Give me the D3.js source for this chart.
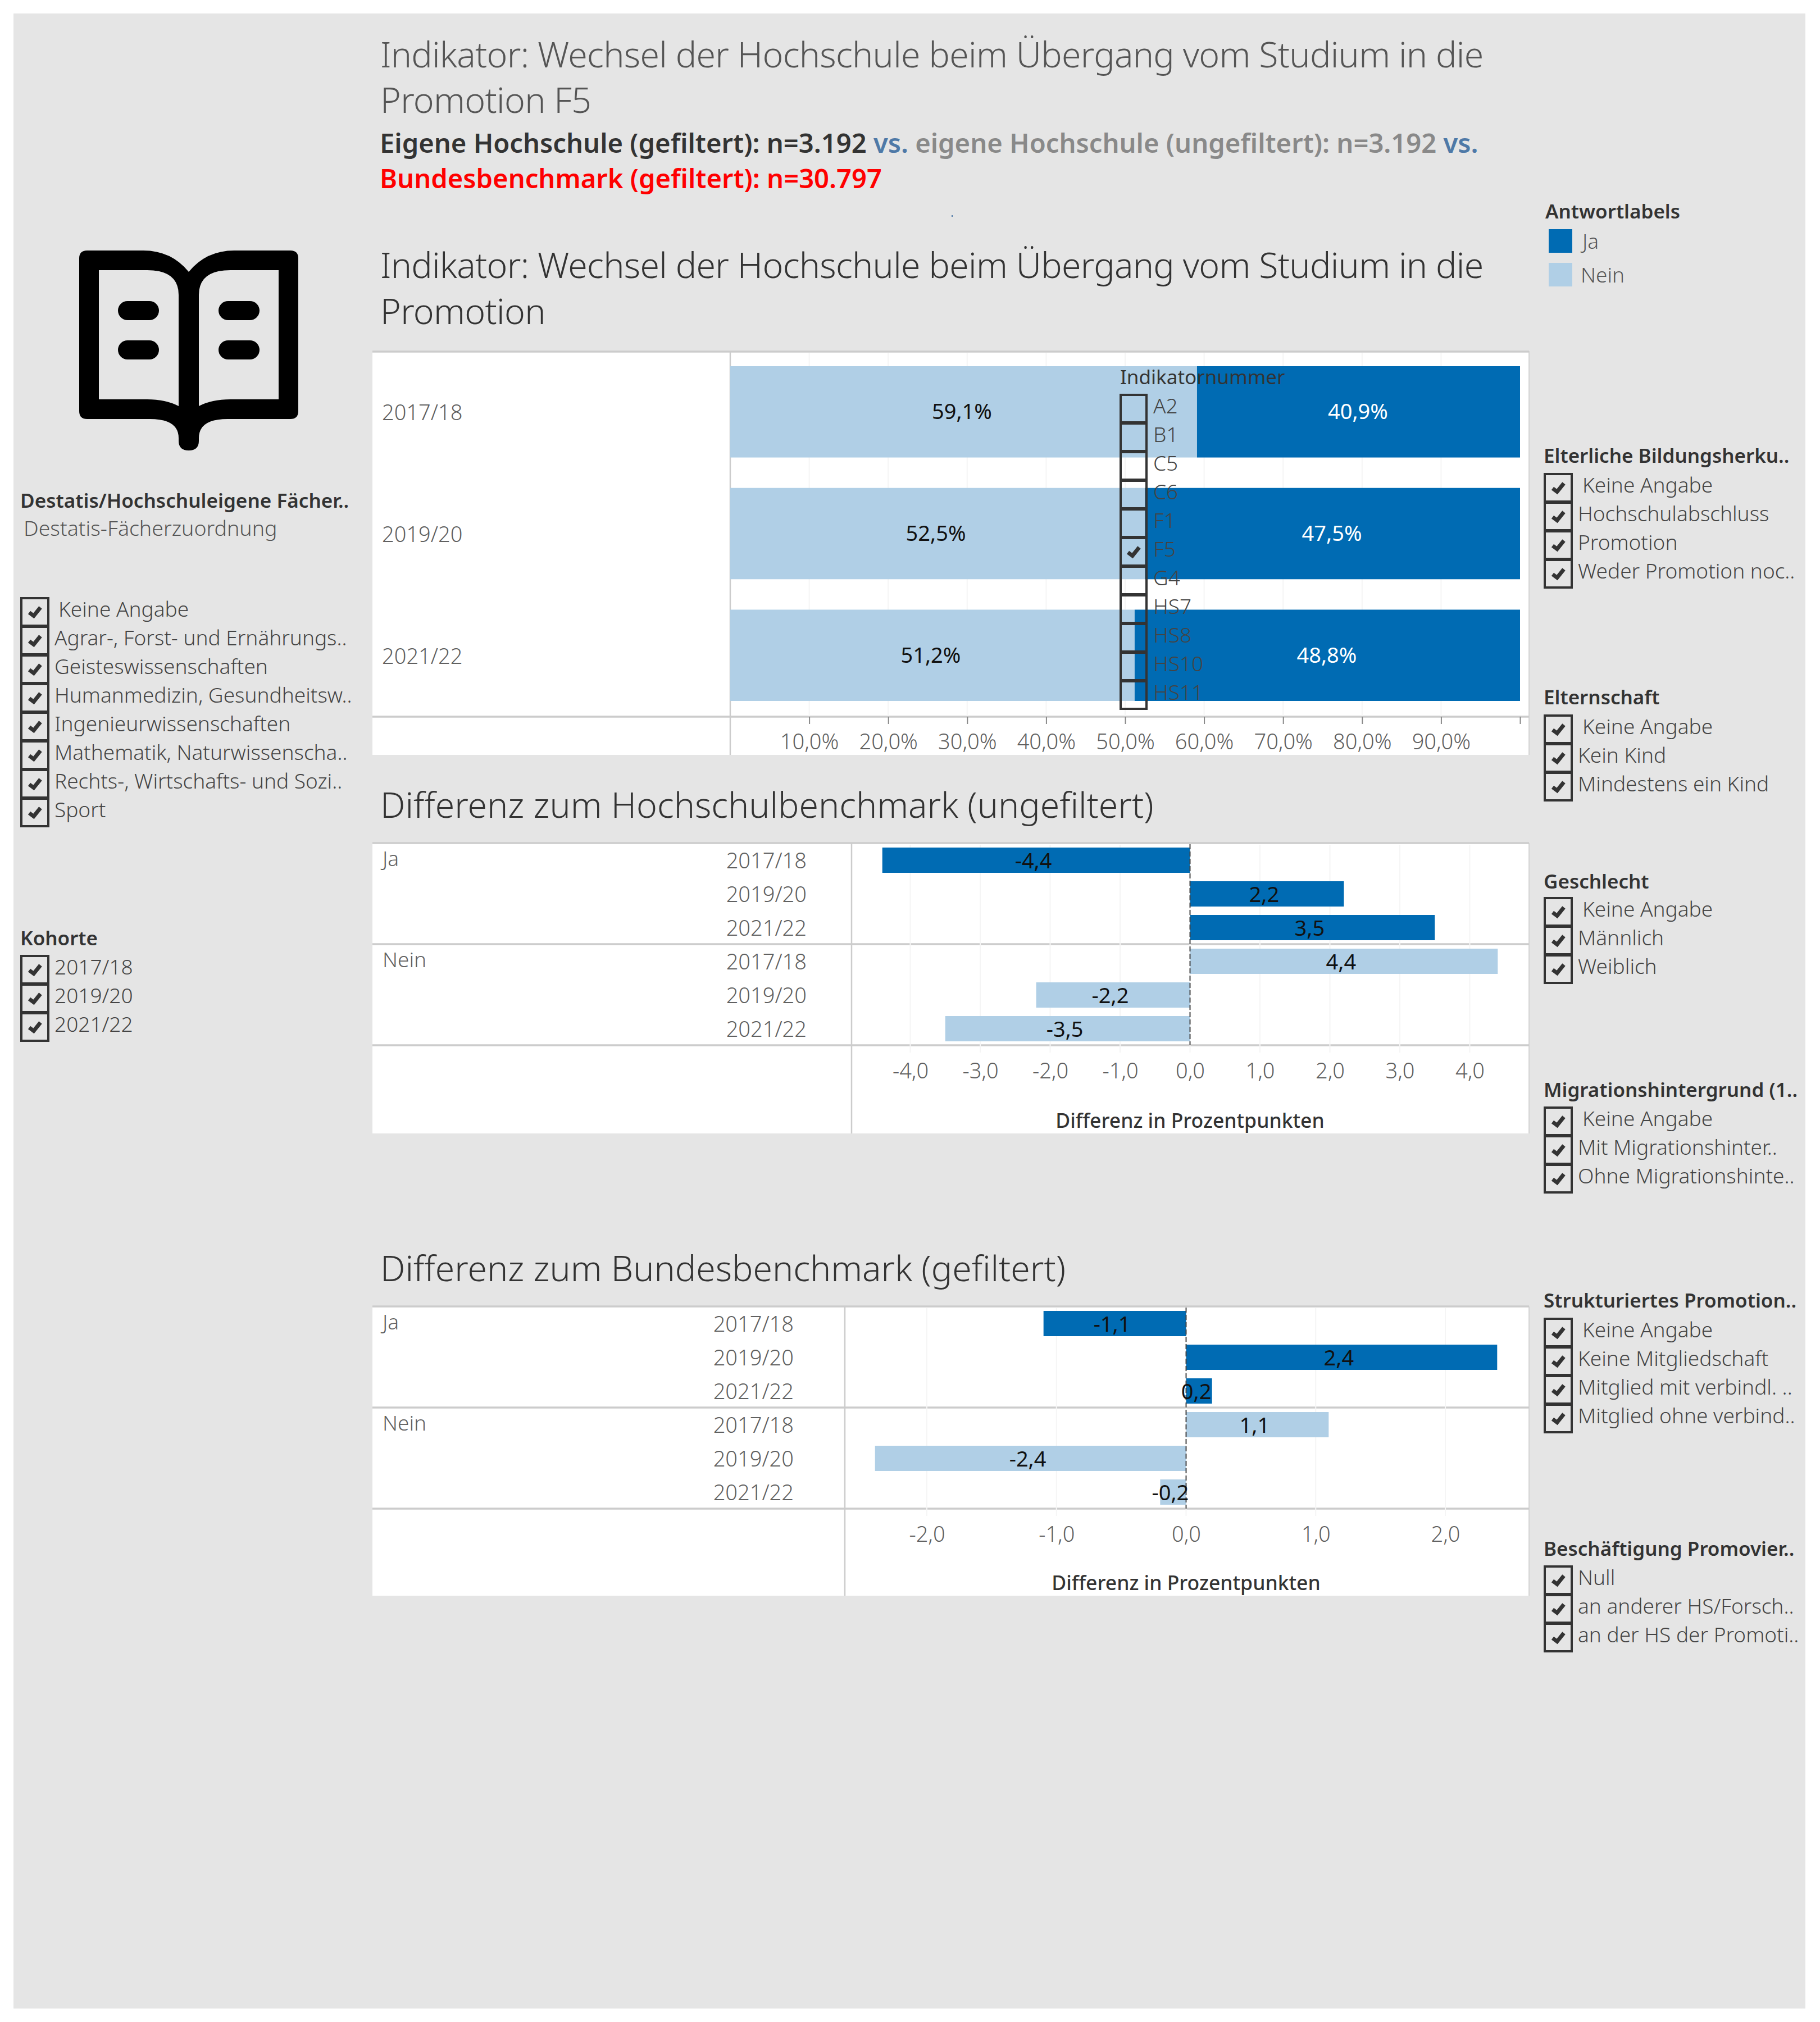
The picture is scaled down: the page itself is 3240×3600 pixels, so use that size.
<!DOCTYPE html>
<html>
<head>
<meta charset="utf-8">
<title>Wechsel der Hochschule</title>
<script src="https://cdn.jsdelivr.net/npm/d3@7"></script>
<style>
  html, body { margin: 0; padding: 0; background: #fff; }
  svg { display: block; }
  text { font-family: "Noto Sans", sans-serif; }
</style>
</head>
<body>
<div id="chart"></div>
<script>
// Data
const years = ["2017/18", "2019/20", "2021/22"];
const answers = ["Ja", "Nein"];
const jaShare = [40.9, 47.5, 48.8];
const neinShare = [59.1, 52.5, 51.2];
const hsDiffJa = [-4.4, 2.2, 3.5];
const hsDiffNein = [4.4, -2.2, -3.5];
const bundDiffJa = [-1.1, 2.4, 0.2];
const bundDiffNein = [1.1, -2.4, -0.2];

const shareTicks = [10, 20, 30, 40, 50, 60, 70, 80, 90, 100];
const hsTicks = [-4, -3, -2, -1, 0, 1, 2, 3, 4];
const bundTicks = [-2, -1, 0, 1, 2];

const indikatoren = ["A2", "B1", "C5", "C6", "F1", "F5", "G4", "HS7", "HS8", "HS10", "HS11"];
const faecher = ["Keine Angabe", "Agrar-, Forst- und Ernährungs..", "Geisteswissenschaften", "Humanmedizin, Gesundheitsw..", "Ingenieurwissenschaften", "Mathematik, Naturwissenscha..", "Rechts-, Wirtschafts- und Sozi..", "Sport"];
const bildung = ["Keine Angabe", "Hochschulabschluss", "Promotion", "Weder Promotion noc.."];
const elternschaft = ["Keine Angabe", "Kein Kind", "Mindestens ein Kind"];
const geschlecht = ["Keine Angabe", "Männlich", "Weiblich"];
const migration = ["Keine Angabe", "Mit Migrationshinter..", "Ohne Migrationshinte.."];
const strukturiert = ["Keine Angabe", "Keine Mitgliedschaft", "Mitglied mit verbindl. ..", "Mitglied ohne verbind.."];
const beschaeftigung = ["Null", "an anderer HS/Forsch..", "an der HS der Promoti.."];

const blue = "#006bb3";
const lightBlue = "#b0cfe6";
const lineGrey = "#cccccc";
const labelGrey = "#606060";
const boxDark = "#333333";
const fs = 37;    // filter and row labels
const numFs = 38; // numbers are set a bit wider in the reference
const headFs = 35;

const de = d3.formatLocale({decimal: ",", thousands: ".", grouping: [3], currency: ["", " €"], minus: "-"});
const fmt1 = de.format(".1f");

const svg = d3.select("#chart").append("svg")
  .attr("width", 3240)
  .attr("height", 3600);

svg.append("rect").attr("x", 24).attr("y", 24).attr("width", 3190).attr("height", 3552).attr("fill", "#e5e5e5");

function addText(x, y, str, size, color, weight, anchor) {
  return svg.append("text")
    .attr("x", x).attr("y", y)
    .attr("font-size", size)
    .attr("fill", color)
    .attr("font-weight", weight || 400)
    .attr("text-anchor", anchor || "start")
    .text(str);
}

// Headings
const titleSize = 62.5;
function addTitle(y, str, color, spacing) {
  addText(677, y, str, titleSize, color, 300).attr("letter-spacing", spacing || 0);
}
addTitle(120, "Indikator: Wechsel der Hochschule beim Übergang vom Studium in die", "#555555", -0.67);
addTitle(201, "Promotion F5", "#555555", -0.67);

const sub1 = svg.append("text").attr("x", 676).attr("y", 272).attr("font-size", 47.15).attr("font-weight", 600);
sub1.append("tspan").attr("fill", "#333333").text("Eigene Hochschule (gefiltert): n=3.192 ");
sub1.append("tspan").attr("fill", "#4e79a7").text("vs. ");
sub1.append("tspan").attr("fill", "#898989").text("eigene Hochschule (ungefiltert): n=3.192 ");
sub1.append("tspan").attr("fill", "#4e79a7").text("vs.");
addText(676, 335, "Bundesbenchmark (gefiltert): n=30.797", 47.15, "#ff0000", 600);
svg.append("rect").attr("x", 1694).attr("y", 383).attr("width", 2).attr("height", 3).attr("fill", "#4e79a7");

addTitle(495, "Indikator: Wechsel der Hochschule beim Übergang vom Studium in die", "#333333", -0.67);
addTitle(577, "Promotion", "#333333", -0.67);
addTitle(1456, "Differenz zum Hochschulbenchmark (ungefiltert)", "#333333");
addTitle(2281, "Differenz zum Bundesbenchmark (gefiltert)", "#333333");

// Panel frame used by all three charts
function panel(top, bottom, splitX, rules) {
  svg.append("rect").attr("x", 663).attr("y", top).attr("width", 2059).attr("height", bottom - top).attr("fill", "#fff");
  svg.append("line").attr("x1", splitX).attr("x2", splitX).attr("y1", top).attr("y2", bottom)
    .attr("stroke", lineGrey).attr("stroke-width", 2.5);
  svg.append("line").attr("x1", 2722).attr("x2", 2722).attr("y1", top).attr("y2", bottom)
    .attr("stroke", lineGrey).attr("stroke-width", 1.5);
  rules.forEach(function(r) {
    svg.append("line").attr("x1", 663).attr("x2", 2722).attr("y1", r).attr("y2", r)
      .attr("stroke", lineGrey).attr("stroke-width", 3.5);
  });
}

// Chart 1: stacked share bars
panel(625, 1344, 1300, [626, 1276]);

const x1 = d3.scaleLinear().domain([0, 100]).range([1300, 2706]);
const y1 = d3.scaleBand().domain(years).range([652, 1248]).paddingInner(0.25);

svg.append("g").selectAll("line").data(shareTicks.slice(0, 9)).enter().append("line")
  .attr("x1", d => x1(d)).attr("x2", d => x1(d)).attr("y1", 628).attr("y2", 1275)
  .attr("stroke", "#f5f5f5").attr("stroke-width", 2);

svg.append("g").selectAll("rect").data(years).enter().append("rect")
  .attr("x", x1(0))
  .attr("y", d => y1(d))
  .attr("width", (d, i) => x1(neinShare[i]) - x1(0))
  .attr("height", y1.bandwidth())
  .attr("fill", lightBlue);

svg.append("g").selectAll("rect").data(years).enter().append("rect")
  .attr("x", (d, i) => x1(neinShare[i]))
  .attr("y", d => y1(d))
  .attr("width", (d, i) => x1(neinShare[i] + jaShare[i]) - x1(neinShare[i]))
  .attr("height", y1.bandwidth())
  .attr("fill", blue);

years.forEach(function(yr, i) {
  const cy = y1(yr) + y1.bandwidth() / 2;
  addText(680, cy + 15, yr, numFs, labelGrey, 300);
  addText(x1(neinShare[i] / 2) - 3, cy + 13, fmt1(neinShare[i]) + "%", numFs, "#111111", 400, "middle");
  addText(x1(neinShare[i] + jaShare[i] / 2) - 1, cy + 13, fmt1(jaShare[i]) + "%", numFs, "#ffffff", 400, "middle");
});

const axis1 = svg.append("g")
  .attr("transform", "translate(0,1276)")
  .call(d3.axisBottom(x1).tickValues(shareTicks).tickSize(13).tickFormat(d => d < 100 ? fmt1(d) + "%" : ""));
axis1.select(".domain").remove();
axis1.selectAll("line").attr("stroke", "#888888").attr("stroke-width", 2);
axis1.selectAll("text").attr("font-size", numFs).attr("font-weight", 300).attr("fill", labelGrey).attr("y", 46).attr("dy", "0.32em").attr("font-family", "Noto Sans");

// Charts 2 and 3: difference bars
function diffChart(o) {
  panel(o.top, o.bottom, o.splitX, [o.top, o.top + 180, o.top + 360]);

  const rows = [];
  answers.forEach(function(a) {
    years.forEach(function(yr, i) {
      rows.push({answer: a, year: yr, value: a === "Ja" ? o.ja[i] : o.nein[i]});
    });
  });

  const x = d3.scaleLinear().domain(o.domain).range(o.range);
  const y = d3.scaleBand().domain(d3.range(rows.length)).range([o.top + 8, o.top + 353]).paddingInner(0.25);

  svg.append("g").selectAll("line").data(o.ticks).enter().append("line")
    .attr("x1", d => x(d)).attr("x2", d => x(d)).attr("y1", o.top + 3).attr("y2", o.top + 373)
    .attr("stroke", "#f5f5f5").attr("stroke-width", 2);

  svg.append("g").selectAll("rect").data(rows).enter().append("rect")
    .attr("x", d => Math.min(x(0), x(d.value)))
    .attr("y", (d, i) => y(i))
    .attr("width", d => Math.abs(x(d.value) - x(0)))
    .attr("height", y.bandwidth())
    .attr("fill", d => d.answer === "Ja" ? blue : lightBlue);

  svg.append("line").attr("x1", x(0)).attr("x2", x(0)).attr("y1", o.top + 2).attr("y2", o.top + 360)
    .attr("stroke", "#444444").attr("stroke-width", 2).attr("stroke-dasharray", "9,4");

  rows.forEach(function(d, i) {
    const cy = y(i) + y.bandwidth() / 2;
    addText(o.yearRight, cy + 14, d.year, numFs, labelGrey, 300, "end");
    addText((x(0) + x(d.value)) / 2 - 5, cy + 14, fmt1(d.value), numFs, "#111111", 400, "middle");
    if (i % 3 === 0) addText(681, cy + 10, d.answer, fs, labelGrey, 300);
  });

  const axis = svg.append("g")
    .attr("transform", "translate(0," + (o.top + 360) + ")")
    .call(d3.axisBottom(x).tickValues(o.ticks).tickSize(0).tickFormat(d => fmt1(d)));
  axis.select(".domain").remove();
  axis.selectAll("text").attr("font-size", numFs).attr("font-weight", 300).attr("fill", labelGrey).attr("y", 47).attr("dy", "0.32em").attr("font-family", "Noto Sans");

  addText(x(0), o.top + o.titleDy, "Differenz in Prozentpunkten", 35.5, "#333333", 500, "middle");
}

diffChart({top: 1501, bottom: 2018, splitX: 1516, yearRight: 1436, ja: hsDiffJa, nein: hsDiffNein,
  domain: [-4, 4], range: [1620.5, 2616.5], ticks: hsTicks, titleDy: 507});
diffChart({top: 2326, bottom: 2841, splitX: 1504, yearRight: 1413, ja: bundDiffJa, nein: bundDiffNein,
  domain: [-2, 2], range: [1650, 2573], ticks: bundTicks, titleDy: 505});

// Check boxes
function tick(x, y, w, h) {
  const cx = x + w / 2, cy = y + h / 2;
  svg.append("path")
    .attr("d", "M" + (cx - 10) + "," + (cy + 1) + "L" + (cx - 2) + "," + (cy + 7) + "L" + (cx + 10) + "," + (cy - 8))
    .attr("fill", "none").attr("stroke", boxDark).attr("stroke-width", 7);
}

function filterList(boxX, top, boxW, items, textX, firstX, checked) {
  items.forEach(function(item, i) {
    const y = top + i * 51;
    svg.append("rect").attr("x", boxX + 2).attr("y", y + 2).attr("width", boxW - 4).attr("height", 49)
      .attr("fill", "none").attr("stroke", boxDark).attr("stroke-width", 4);
    if (checked === undefined || checked === item) tick(boxX, y, boxW, 53);
    const tx = (i === 0 && firstX) ? firstX : textX;
    addText(tx, y + 35, item, fs, "#444444", 300);
  });
}

// Left column
addText(36, 904, "Destatis/Hochschuleigene Fächer..", 35.1, "#333333", 600);
addText(42, 954, "Destatis-Fächerzuordnung", 37.5, "#555555", 300);
filterList(36, 1063, 52, faecher, 97, 104);
addText(36, 1683, "Kohorte", headFs, "#333333", 600);
filterList(36, 1700, 52, years, 97);

// Overlay filter on chart 1
addText(1994, 684, "Indikatornummer", 35, "#333333", 400);
filterList(1993, 701, 50, indikatoren, 2053, null, "F5");

// Right column legend
addText(2751, 389, "Antwortlabels", headFs, "#333333", 600);
const legendY = d3.scaleBand().domain(answers).range([408, 510]).paddingInner(0.3);
svg.append("g").selectAll("rect").data(answers).enter().append("rect")
  .attr("x", 2757).attr("y", d => legendY(d)).attr("width", 42).attr("height", legendY.bandwidth())
  .attr("fill", d => d === "Ja" ? blue : lightBlue);
addText(2817, 443, "Ja", fs, "#555555", 300);
addText(2814, 503, "Nein", fs, "#555555", 300);

addText(2748, 824, "Elterliche Bildungsherku..", headFs, "#333333", 600);
filterList(2748, 842, 52, bildung, 2809, 2817);
addText(2748, 1254, "Elternschaft", headFs, "#333333", 600);
filterList(2748, 1272, 52, elternschaft, 2809, 2817);
addText(2748, 1582, "Geschlecht", headFs, "#333333", 600);
filterList(2748, 1597, 52, geschlecht, 2809, 2817);
addText(2748, 1953, "Migrationshintergrund (1..", headFs, "#333333", 600);
filterList(2748, 1970, 52, migration, 2809, 2817);
addText(2748, 2328, "Strukturiertes Promotion..", headFs, "#333333", 600);
filterList(2748, 2346, 52, strukturiert, 2809, 2817);
addText(2748, 2770, "Beschäftigung Promovier..", headFs, "#333333", 600);
filterList(2748, 2787, 52, beschaeftigung, 2809);

// Book icon
svg.append("path")
  .attr("fill-rule", "evenodd")
  .attr("fill", "#000000")
  .attr("d", "M155 446H255Q305 446 336 484Q367 446 417 446H517Q531 446 531 460V732Q531 746 517 746H405Q354 746 354 780V785Q354 802 336 802Q318 802 318 785V780Q318 746 267 746H155Q141 746 141 732V460Q141 446 155 446Z" +
    "M176 481V711H262Q295 711 318 723V525Q318 481 262 481Z" +
    "M496 481V711H410Q377 711 354 723V525Q354 481 410 481Z");
[[210, 536], [210, 606], [389, 536], [389, 606]].forEach(function(p) {
  svg.append("rect").attr("x", p[0]).attr("y", p[1]).attr("width", 73).attr("height", 34).attr("rx", 17).attr("fill", "#000000");
});
</script>
</body>
</html>
